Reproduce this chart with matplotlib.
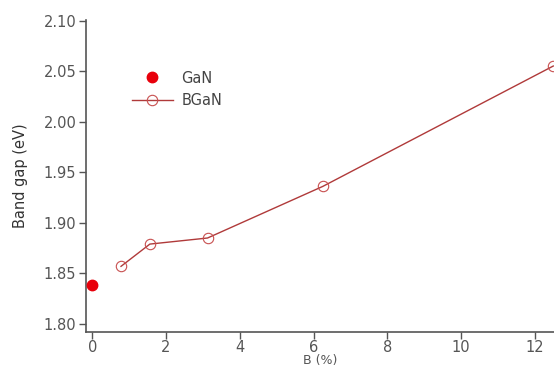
import matplotlib
matplotlib.use("Agg")
import matplotlib.pyplot as plt

gan_x = [0.0]
gan_y = [1.839]
bgan_x = [0.78, 1.5625, 3.125, 6.25, 12.5]
bgan_y = [1.857, 1.879, 1.885, 1.936, 2.055]
xticks = [0, 2, 4, 6, 8, 10, 12]
yticks = [1.80, 1.85, 1.90, 1.95, 2.00, 2.05, 2.10]

plt.rcParams['font.family'] = ['DejaVu Sans']
fig = plt.figure(figsize=(5.54, 3.67), dpi=100)
ax = fig.add_axes([0.1552, 0.0962, 0.8448, 0.8493])

ax.plot(gan_x, gan_y, 'o', color='#e8000b', markersize=7.5, label='GaN', clip_on=False, zorder=3)
ax.plot(bgan_x, bgan_y, '-o', color='#b03a3a', lw=1.0, markersize=7.5,
        markerfacecolor='none', markeredgecolor='#c85050', markeredgewidth=0.8,
        label='BGaN', clip_on=False)

ax.set_xlim(-0.17, 12.52)
ax.set_ylim(1.7924, 2.1005)
ax.set_xticks(xticks)
ax.set_xticklabels([str(t) for t in xticks])
ax.set_yticks(yticks)
ax.set_yticklabels([f"{t:.2f}" for t in yticks])
for s in ['top', 'right']:
    ax.spines[s].set_visible(False)
for s in ['left', 'bottom']:
    ax.spines[s].set_color('#555555')
    ax.spines[s].set_linewidth(1.2)
ax.tick_params(direction='out', length=5, width=1.0, color='#555555',
               labelsize=10.5, labelcolor='#555555', pad=2)
ax.tick_params(axis='x', pad=1)

ax.set_xlabel('B (%)', fontsize=9, color='#555555', labelpad=-1)
ax.set_ylabel('Band gap (eV)', fontsize=10.5, color='#333333', labelpad=11)

leg = ax.legend(loc='upper left', bbox_to_anchor=(0.07, 0.88), frameon=False,
                fontsize=10.5, handlelength=2.8, labelcolor='#444444',
                labelspacing=0.5, handletextpad=0.6)

fig.savefig('out.png', dpi=100)
